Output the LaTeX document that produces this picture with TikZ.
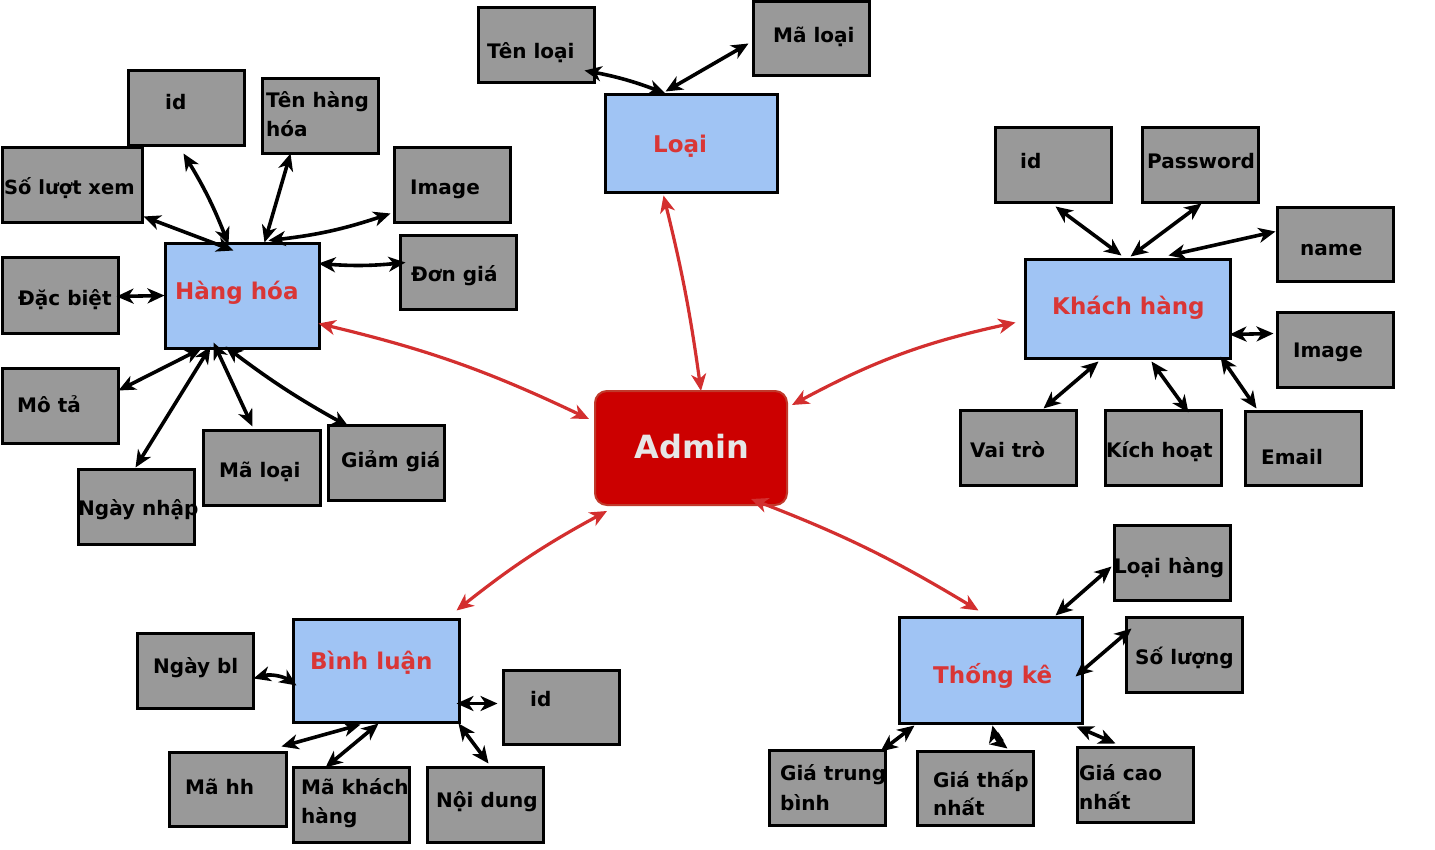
\documentclass[tikz,border=0pt]{standalone}
\usepackage{fontspec}
\setmainfont{DejaVu Sans}
\usetikzlibrary{arrows.meta,calc}
\definecolor{boxgray}{HTML}{999999}
\definecolor{boxblue}{HTML}{A0C4F4}
\definecolor{titlered}{HTML}{D93636}
\definecolor{adminred}{HTML}{CC0000}
\definecolor{adminborder}{HTML}{C0392B}
\definecolor{adminText}{HTML}{E6E6E6}
\definecolor{linkred}{HTML}{D32F2F}
\tikzset{
  gbox/.style={draw=black, line width=3pt, fill=boxgray, rectangle, inner sep=0pt},
  bbox/.style={draw=black, line width=3pt, fill=boxblue, rectangle, inner sep=0pt},
  abox/.style={draw=adminborder, line width=2pt, fill=adminred, rectangle, rounded corners=12pt, inner sep=0pt},
  lbl/.style={inner sep=0pt, text=black, font=\fontsize{20}{23}\selectfont\bfseries},
  ttl/.style={inner sep=0pt, text=titlered, font=\fontsize{23}{27}\selectfont\bfseries},
  conn/.style={line width=3.6pt, draw=black, arrows={Stealth[length=17pt,width=15pt,inset=5pt]-Stealth[length=17pt,width=15pt,inset=5pt]}},
  rconn/.style={line width=3.2pt, draw=linkred, arrows={Stealth[length=17pt,width=15pt,inset=5pt]-Stealth[length=17pt,width=15pt,inset=5pt]}}
}
\newcommand\bx[6]{\node[#1, minimum width=#5pt, minimum height=#6pt] (#2) at ({#3+#5/2},{#4+#6/2}) {};}
\newcommand\tx[5]{\node[#1, anchor=base west] (#2) at (#3,#4) {#5};}
\begin{document}
\begin{tikzpicture}[x=1pt,y=-1pt]
\useasboundingbox (0,0) rectangle (1435,850);
% ---- boxes ----
\bx{gbox}{tenloai}{478}{8}{116}{75}
\bx{gbox}{maloaia}{753}{2}{116}{74}
\bx{bbox}{loai}{605}{95}{172}{98}
\bx{gbox}{hhid}{128}{71}{116}{75}
\bx{gbox}{tenhh}{262}{79}{116}{75}
\bx{gbox}{sluotxem}{2}{148}{140}{75}
\bx{gbox}{hhimg}{394}{148}{116}{75}
\bx{gbox}{dongia}{400}{236}{116}{74}
\bx{gbox}{dacbiet}{2}{258}{116}{75}
\bx{bbox}{hh}{165}{244}{154}{104}
\bx{gbox}{mota}{2}{368}{116}{75}
\bx{gbox}{ngaynhap}{78}{469}{116}{75}
\bx{gbox}{maloaib}{203}{430}{117}{75}
\bx{gbox}{giamgia}{328}{425}{116}{75}
\bx{abox}{admin}{595}{391}{192}{114}
\bx{gbox}{khid}{995}{128}{116}{75}
\bx{gbox}{pass}{1142}{128}{116}{75}
\bx{gbox}{name}{1277}{208}{116}{74}
\bx{bbox}{kh}{1025}{260}{205}{98}
\bx{gbox}{khimg}{1277}{313}{116}{74}
\bx{gbox}{vaitro}{960}{410}{116}{75}
\bx{gbox}{kichhoat}{1105}{410}{116}{75}
\bx{gbox}{email}{1245}{411}{116}{74}
\bx{gbox}{loaihang}{1114}{525}{116}{75}
\bx{gbox}{soluong}{1126}{617}{116}{75}
\bx{bbox}{tk}{899}{617}{183}{106}
\bx{gbox}{gtb}{769}{750}{116}{75}
\bx{gbox}{gtn}{917}{751}{116}{74}
\bx{gbox}{gcn}{1077}{747}{116}{75}
\bx{bbox}{bl}{293}{619}{166}{103}
\bx{gbox}{ngaybl}{137}{633}{116}{75}
\bx{gbox}{blid}{503}{670}{116}{74}
\bx{gbox}{mahh}{169}{752}{117}{74}
\bx{gbox}{makh}{293}{767}{116}{75}
\bx{gbox}{noidung}{427}{767}{116}{75}
% ---- texts ----
\tx{lbl}{tenloai-t}{487}{59}{Tên loại}
\tx{lbl}{maloaia-t}{773}{43}{Mã loại}
\tx{ttl}{loai-t}{653}{153}{Loại}
\tx{lbl}{hhid-t}{165}{110}{id}
\tx{lbl}{tenhh-t1}{266}{108}{Tên hàng}
\tx{lbl}{tenhh-t2}{266}{137}{hóa}
\node[lbl, anchor=base west, font=\fontsize{19.5}{23}\selectfont\bfseries] (sluotxem-t) at (4,195) {Số lượt xem};
\tx{lbl}{hhimg-t}{410}{195}{Image}
\tx{lbl}{dongia-t}{411}{282}{Đơn giá}
\tx{lbl}{dacbiet-t}{18}{306}{Đặc biệt}
\tx{ttl}{hh-t}{175}{300}{Hàng hóa}
\tx{lbl}{mota-t}{17}{412}{Mô tả}
\tx{lbl}{ngaynhap-t}{78}{515}{Ngày nhập}
\tx{lbl}{maloaib-t}{219}{477}{Mã loại}
\tx{lbl}{giamgia-t}{341}{467}{Giảm giá}
\node[inner sep=0pt, text=adminText, font=\fontsize{32}{38}\selectfont\bfseries, anchor=base] (admin-t) at (692,458) {Admin};
\tx{lbl}{khid-t}{1020}{169}{id}
\tx{lbl}{pass-t}{1147}{169}{Password}
\tx{lbl}{name-t}{1300}{256}{name}
\tx{ttl}{kh-t}{1052}{315}{Khách hàng}
\tx{lbl}{khimg-t}{1293}{357}{Image}
\tx{lbl}{vaitro-t}{970}{457}{Vai trò}
\tx{lbl}{kichhoat-t}{1106}{457}{Kích hoạt}
\tx{lbl}{email-t}{1261}{464}{Email}
\tx{lbl}{loaihang-t}{1114}{573}{Loại hàng}
\tx{lbl}{soluong-t}{1135}{664}{Số lượng}
\tx{ttl}{tk-t}{933}{683}{Thống kê}
\tx{lbl}{gtb-t1}{780}{780}{Giá trung}
\tx{lbl}{gtb-t2}{780}{810}{bình}
\tx{lbl}{gtn-t1}{933}{787}{Giá thấp}
\tx{lbl}{gtn-t2}{933}{815}{nhất}
\tx{lbl}{gcn-t1}{1079}{780}{Giá cao}
\tx{lbl}{gcn-t2}{1079}{809}{nhất}
\tx{ttl}{bl-t}{310}{669}{Bình luận}
\tx{lbl}{ngaybl-t}{153}{673}{Ngày bl}
\tx{lbl}{blid-t}{530}{706}{id}
\tx{lbl}{mahh-t}{185}{794}{Mã hh}
\tx{lbl}{makh-t1}{301}{794}{Mã khách}
\tx{lbl}{makh-t2}{301}{823}{hàng}
\tx{lbl}{noidung-t}{436}{807}{Nội dung}
% ---- black connectors: Loai ----
\draw[conn] ($(tenloai.north west)+(108,64)$) to[bend left=5] ($(loai.north west)+(62,0)$);
\draw[conn] ($(maloaia.north west)+(-3,43)$) -- ($(loai.north west)+(62,-2)$);
% ---- Hang hoa ----
\draw[conn] ($(sluotxem.north west)+(143,70)$) -- ($(hh.north west)+(70,8)$);
\draw[conn] ($(hhid.north west)+(57,84)$) to[bend left=5] ($(hh.north west)+(65,2)$);
\draw[conn] ($(tenhh.north west)+(30,76)$) -- ($(hh.north west)+(101,0)$);
\draw[conn] ($(hhimg.north west)+(-2,67)$) to[bend left=6] ($(hh.north west)+(105,-2)$);
\draw[conn] ($(dongia.north west)+(7,28)$) to[bend left=5] ($(hh.north west)+(155,21)$);
\draw[conn] ($(dacbiet.north west)+(116,40)$) -- ($(hh.north west)+(1,53)$);
\draw[conn] ($(mota.north west)+(118,24)$) -- ($(hh.north west)+(38,106)$);
\draw[conn] ($(ngaynhap.north west)+(59,0)$) -- ($(hh.north west)+(47,104)$);
\draw[conn] ($(maloaib.north west)+(51,-2)$) -- ($(hh.north west)+(50,100)$);
\draw[conn] ($(giamgia.north west)+(22,3)$) to[bend left=4] ($(hh.north west)+(62,104)$);
% ---- Khach hang ----
\draw[conn] ($(khid.north west)+(62,80)$) -- ($(kh.north west)+(98,-3)$);
\draw[conn] ($(pass.north west)+(61,77)$) -- ($(kh.north west)+(107,-2)$);
\draw[conn] ($(name.north west)+(0,25)$) -- ($(kh.north west)+(145,-3)$);
\draw[conn] ($(khimg.north west)+(-2,22)$) -- ($(kh.north west)+(206,76)$);
\draw[conn] ($(vaitro.north west)+(85,0)$) -- ($(kh.north west)+(75,103)$);
\draw[conn] ($(kichhoat.north west)+(85,4)$) -- ($(kh.north west)+(128,103)$);
\draw[conn] ($(email.north west)+(13,-1)$) -- ($(kh.north west)+(197,98)$);
% ---- Thong ke ----
\draw[conn] ($(loaihang.north west)+(-1,43)$) -- ($(tk.north west)+(158,0)$);
\draw[conn] ($(soluong.north west)+(7,13)$) -- ($(tk.north west)+(178,61)$);
\draw[conn] ($(gtb.north west)+(113,3)$) -- ($(tk.north west)+(17,110)$);
\draw[conn] ($(gtn.north west)+(92,-1)$) to[bend left=20] ($(tk.north west)+(95,110)$);
\draw[conn] ($(gcn.north west)+(40,-2)$) -- ($(tk.north west)+(179,111)$);
% ---- Binh luan ----
\draw[conn] ($(ngaybl.north west)+(118,47)$) to[bend left=25] ($(bl.north west)+(5,68)$);
\draw[conn] ($(blid.north west)+(-4,35)$) -- ($(bl.north west)+(165,86)$);
\draw[conn] ($(mahh.north west)+(114,-4)$) -- ($(bl.north west)+(69,107)$);
\draw[conn] ($(makh.north west)+(34,2)$) -- ($(bl.north west)+(87,106)$);
\draw[conn] ($(noidung.north west)+(63,-2)$) -- ($(bl.north west)+(167,106)$);
% ---- red connectors ----
\draw[rconn] ($(hh.north west)+(155,81)$) to[bend left=6] ($(admin.north west)+(-5,29)$);
\draw[rconn] ($(loai.north west)+(60,102)$) to[bend left=3] ($(admin.north west)+(107,1)$);
\draw[rconn] ($(kh.north west)+(-8,64)$) to[bend right=8] ($(admin.north west)+(198,15)$);
\draw[rconn] ($(admin.north west)+(13,121)$) to[bend right=5] ($(bl.north west)+(165,-7)$);
\draw[rconn] ($(admin.north west)+(157,109)$) to[bend left=5] ($(tk.north west)+(81,-5)$);
\end{tikzpicture}
\end{document}
